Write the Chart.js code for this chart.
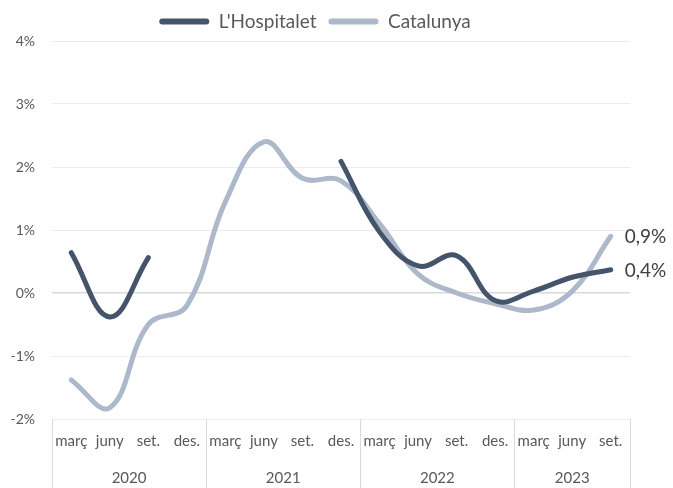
<!DOCTYPE html>
<html><head><meta charset="utf-8">
<script src="https://cdn.jsdelivr.net/npm/chart.js@4/dist/chart.umd.min.js"></script>
<style>html,body{margin:0;padding:0;background:#fff}#wrap{width:673px;height:488px;position:relative}</style>
</head><body><div id="wrap"><canvas id="c" width="673" height="488"></canvas></div>
<script>
const quarters = ['març','juny','set.','des.','març','juny','set.','des.','març','juny','set.','des.','març','juny','set.'];
const years = ['2020','2021','2022','2023'];
const quartersPerYear = [4,4,4,3];
const hospitalet = [0.64,-0.38,0.56,null,null,null,null,2.09,0.97,0.43,0.59,-0.12,0.03,0.25,0.37];
const catalunya = [-1.38,-1.82,-0.5,-0.2,1.45,2.4,1.82,1.78,1.1,0.3,0.0,-0.17,-0.27,0.03,0.9];
const seriesNames = ["L'Hospitalet","Catalunya"];
const seriesColors = ['#44546a','#adb9ca'];

const FONT = 'Lato';
const TXT = '#595959';

const groupPlugin = {
  id: 'groups',
  afterDraw(chart) {
    const ctx = chart.ctx;
    const x = chart.scales.x;
    const area = chart.chartArea;
    const half = (x.getPixelForValue(1) - x.getPixelForValue(0)) / 2;
    ctx.save();
    ctx.strokeStyle = '#d9d9d9';
    ctx.lineWidth = 1;
    let idx = 0;
    const bounds = [x.getPixelForValue(0) - half];
    quartersPerYear.forEach(n => { idx += n; bounds.push(x.getPixelForValue(idx - 1) + half); });
    bounds.forEach(b => {
      ctx.beginPath();
      ctx.moveTo(Math.round(b) + 0.5, area.bottom);
      ctx.lineTo(Math.round(b) + 0.5, chart.height);
      ctx.stroke();
    });
    ctx.fillStyle = TXT;
    ctx.font = '15px ' + FONT;
    ctx.textAlign = 'center';
    ctx.textBaseline = 'middle';
    years.forEach((y, i) => {
      ctx.fillText(y, (bounds[i] + bounds[i + 1]) / 2, area.bottom + 59);
    });
    // end labels
    ctx.font = '19px ' + FONT;
    ctx.fillStyle = '#404040';
    ctx.textAlign = 'left';
    chart.data.datasets.forEach((ds, di) => {
      const meta = chart.getDatasetMeta(di);
      const last = ds.data.length - 1;
      const pt = meta.data[last];
      const txt = ds.data[last].toFixed(1).replace('.', ',') + '%';
      ctx.fillText(txt, pt.x + 14, pt.y + 1);
    });
    ctx.restore();
  }
};

new Chart(document.getElementById('c'), {
  type: 'line',
  data: {
    labels: quarters,
    datasets: [
      { label: seriesNames[0], data: hospitalet, borderColor: seriesColors[0], backgroundColor: seriesColors[0],
        borderWidth: 5, tension: 0.4, pointRadius: 0, borderCapStyle: 'round', spanGaps: false },
      { label: seriesNames[1], data: catalunya, borderColor: seriesColors[1], backgroundColor: seriesColors[1],
        borderWidth: 5, tension: 0.4, pointRadius: 0, borderCapStyle: 'round' }
    ]
  },
  options: {
    responsive: false,
    animation: false,
    devicePixelRatio: 1,
    layout: { padding: { top: 0, right: 43, bottom: 0, left: 0 } },
    plugins: {
      legend: {
        position: 'top',
        labels: {
          font: { family: FONT, size: 19 },
          color: TXT,
          boxWidth: 50,
          boxHeight: 6,
          useBorderRadius: true,
          borderRadius: 3,
          padding: 12,
          generateLabels(chart) {
            const items = Chart.defaults.plugins.legend.labels.generateLabels(chart);
            items.forEach(it => { it.fillStyle = it.strokeStyle; it.lineWidth = 0; });
            return items;
          }
        }
      },
      tooltip: { enabled: false }
    },
    scales: {
      x: {
        offset: true,
        grid: { display: false, drawTicks: false },
        border: { display: false },
        ticks: { font: { family: FONT, size: 15 }, color: TXT, padding: 13, maxRotation: 0, autoSkip: false },
        afterFit(s) { s.height = 69; }
      },
      y: {
        min: -2, max: 4,
        ticks: { stepSize: 1, callback: v => v + '%', font: { family: FONT, size: 14 }, color: TXT, padding: 17 },
        grid: { drawTicks: false, color: c => c.tick && c.tick.value === 0 ? '#d9d9d9' : '#ececec', lineWidth: c => c.tick && c.tick.value === 0 ? 1.5 : 1 },
        border: { display: false },
        afterFit(s) { s.width = 52; }
      }
    }
  },
  plugins: [groupPlugin]
});
</script>
</body></html>
